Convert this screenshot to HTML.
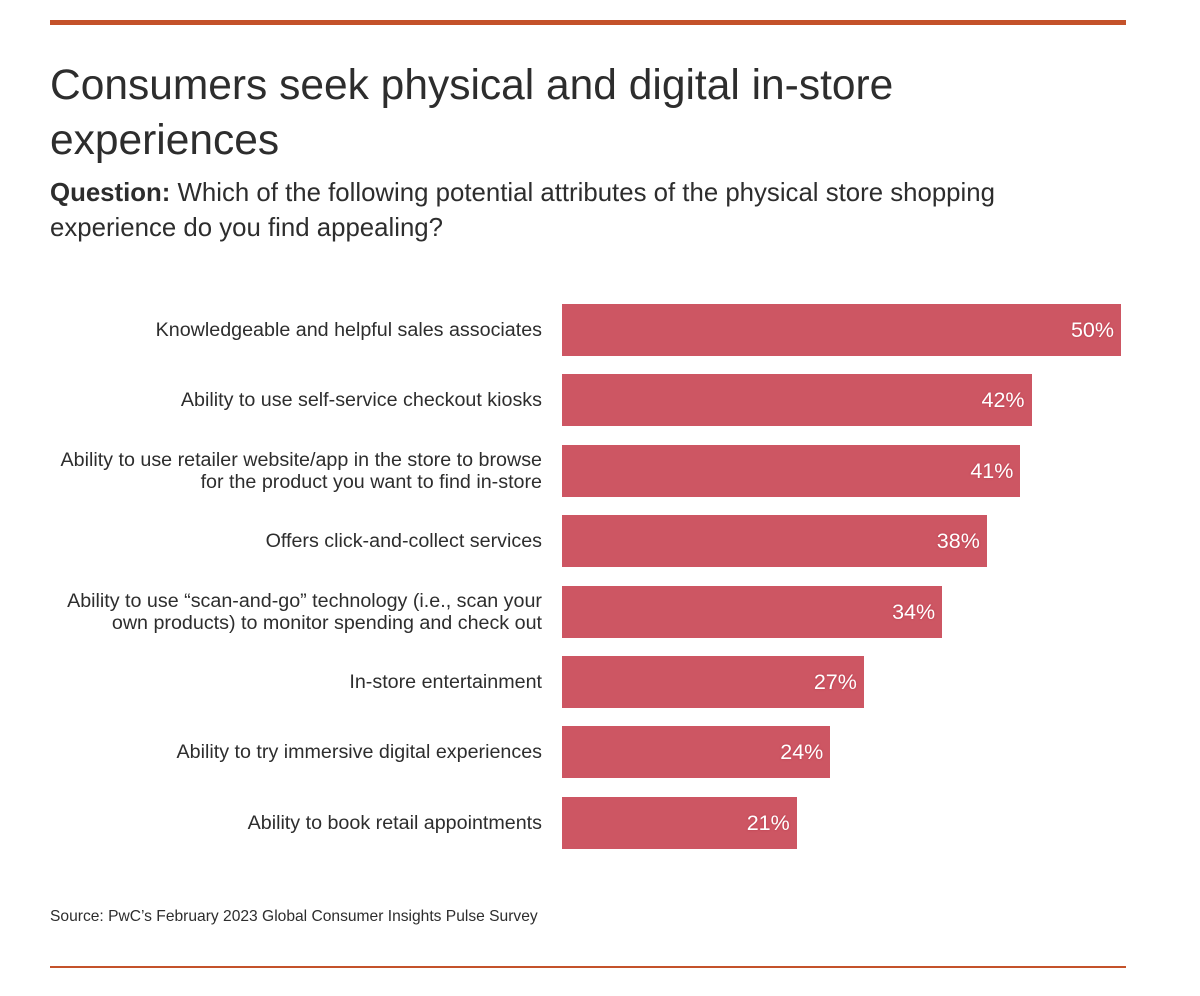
<!DOCTYPE html>
<html><head><meta charset="utf-8"><style>
body{margin:0;width:1200px;height:996px;background:#fff;font-family:"Liberation Sans",sans-serif;position:relative;overflow:hidden}
.abs{position:absolute}
#title{left:50px;top:58px;width:900px;font-size:42.5px;line-height:55px;color:#2d2d2d}
#sub{left:50px;top:176px;width:1000px;font-size:25.8px;line-height:35px;color:#2d2d2d}
.lab{position:absolute;right:658px;text-align:right;font-size:19.7px;line-height:22px;color:#2d2d2d;display:flex;align-items:center;justify-content:flex-end;height:52px;width:540px}
.bar{position:absolute;height:52px;background:#cd5663}
.val{position:absolute;height:52px;line-height:52px;font-size:21.5px;color:#fff;text-align:right;text-shadow:0 0 2px #b83b4c}
</style></head><body>
<div class="abs" style="left:50px;top:20px;width:1076px;height:5px;background:#c4522a"></div>
<div class="abs" id="title">Consumers seek physical and digital in-store experiences</div>
<div class="abs" id="sub"><b>Question:</b> Which of the following potential attributes of the physical store shopping experience do you find appealing?</div>
<div id="chart"></div>
<div class="abs" style="left:50px;top:908px;font-size:15.6px;color:#2d2d2d">Source: PwC’s February 2023 Global Consumer Insights Pulse Survey</div>
<div class="abs" style="left:50px;top:966px;width:1076px;height:2px;background:#c4522a"></div>
<script>
const categories=["Knowledgeable and helpful sales associates","Ability to use self-service checkout kiosks","Ability to use retailer website/app in the store to browse<br>for the product you want to find in-store","Offers click-and-collect services","Ability to use “scan-and-go” technology (i.e., scan your<br>own products) to monitor spending and check out","In-store entertainment","Ability to try immersive digital experiences","Ability to book retail appointments"];
const values=[50,42,41,38,34,27,24,21];
const x0=562,pxPer=11.18,y0=304,step=70.4;
const xs=v=>v*pxPer, ys=i=>y0+i*step;
const c=document.getElementById('chart');
values.forEach((v,i)=>{
  const l=document.createElement('div');l.className='lab';l.style.top=ys(i)+'px';l.innerHTML='<span>'+categories[i]+'</span>';
  
  
  c.appendChild(l);
  const b=document.createElement('div');b.className='bar';b.style.left=x0+'px';b.style.top=ys(i)+'px';b.style.width=xs(v)+'px';
  
  
  c.appendChild(b);
  const t=document.createElement('div');t.className='val';t.style.left=x0+'px';t.style.top=ys(i)+'px';t.style.width=(xs(v)-7)+'px';t.textContent=v+'%';
  
  
  c.appendChild(t);
});
</script>
</body></html>
